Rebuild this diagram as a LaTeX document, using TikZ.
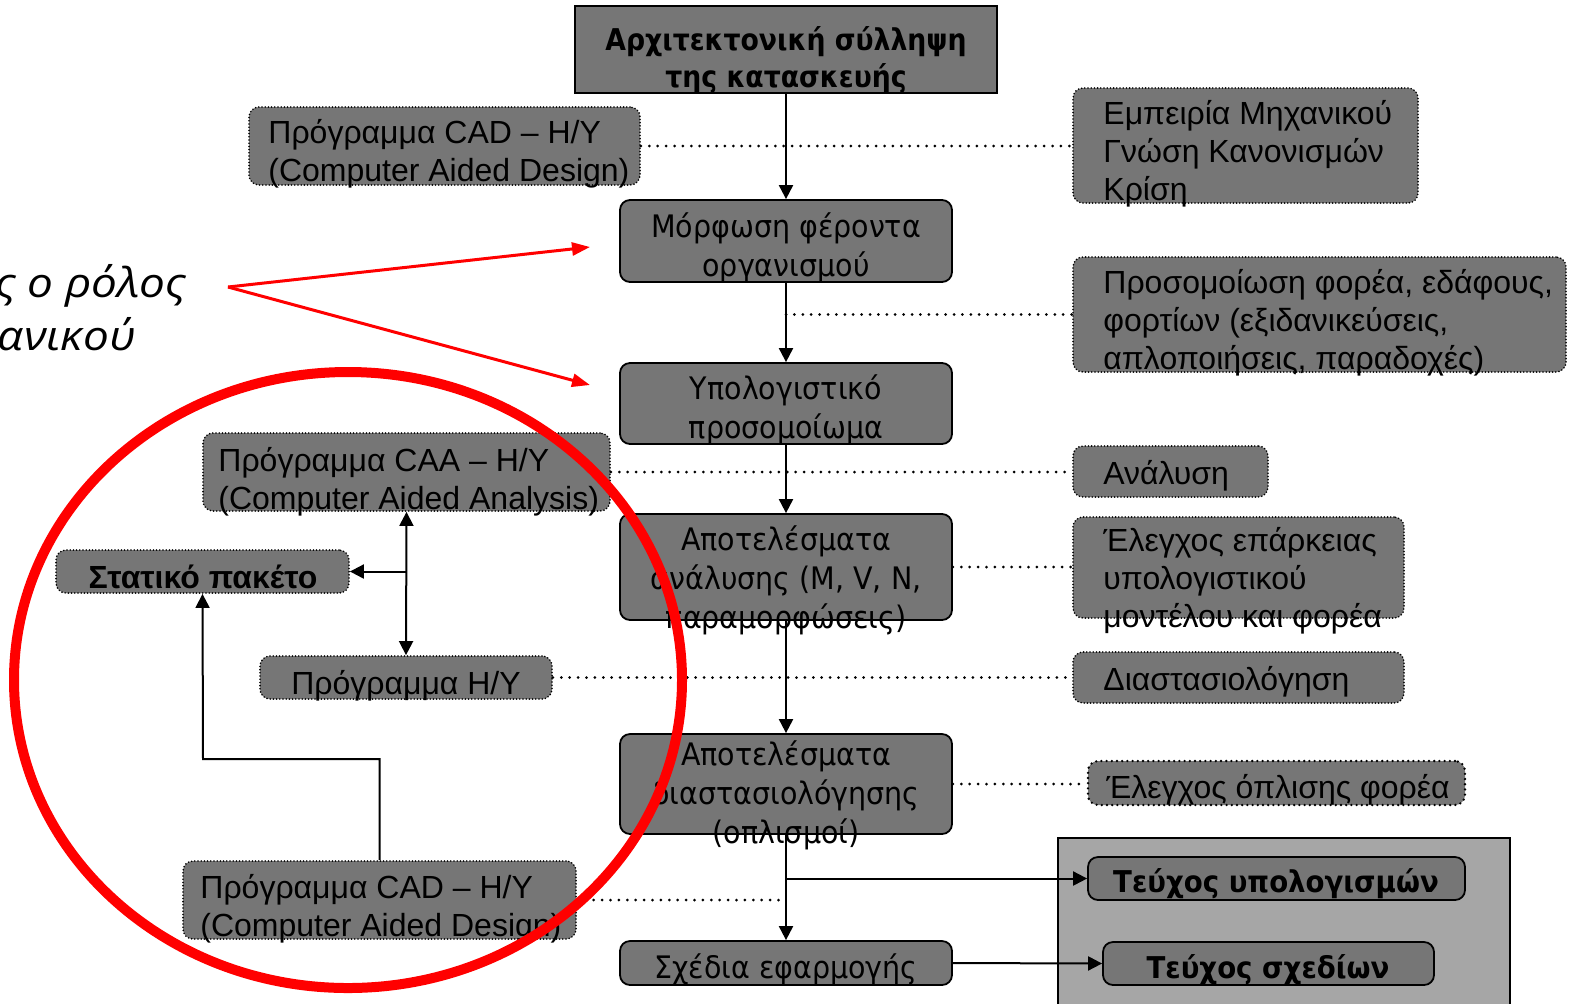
\documentclass[tikz,border=0pt]{standalone}
\usepackage{fontspec}
\setmainfont{Liberation Sans}
\newfontfamily\tahoma[FakeStretch=0.92]{DejaVu Sans}
\newfontfamily\tahomab[FakeStretch=0.89]{DejaVu Sans Bold}
\newfontfamily\redf[FakeStretch=1.12]{Open Sans}
\usetikzlibrary{arrows.meta,fit,calc}
\definecolor{boxgray}{RGB}{118,118,118}
\definecolor{lightbox}{RGB}{166,166,166}
\definecolor{myred}{RGB}{255,0,0}
\tikzset{
  basebox/.style={fill=boxgray, inner sep=0pt, rounded corners=5pt},
  sharpbox/.style={fill=boxgray, inner sep=0pt, draw=black, line width=1pt},
  solidbox/.style={basebox, draw=black, line width=0.9pt},
  dotbox/.style={basebox, draw=black, line width=0.9pt, line cap=round, dash pattern=on 0pt off 1.6pt},
  dotboxthick/.style={basebox, draw=black, line width=1.3pt, line cap=round, dash pattern=on 0pt off 2.6pt},
  dotline/.style={line width=1.5pt, line cap=round, dash pattern=on 0pt off 4.2pt},
  arr/.style={line width=1pt, -{Triangle[length=7pt,width=7pt]}},
  darr/.style={line width=1pt, {Triangle[length=7pt,width=7pt]}-{Triangle[length=7pt,width=7pt]}},
  redarr/.style={line width=1.5pt, draw=myred, -{Triangle[length=9pt,width=6.5pt]}, myred},
  ltxt/.style={font=\fontsize{16}{19}\selectfont, align=left, anchor=base west, inner sep=0pt},
  ctxt/.style={font=\tahoma\fontsize{15.5}{19.3}\selectfont, align=center, anchor=base, inner sep=0pt},
  titletxt/.style={font=\tahomab\fontsize{15}{18.5}\selectfont, align=center, anchor=base, inner sep=0pt},
  btxt/.style={font=\tahoma\bfseries\fontsize{15}{18}\selectfont, anchor=base, inner sep=0pt},
  stxt/.style={font=\bfseries\fontsize{16}{19}\selectfont, anchor=base, inner sep=0pt},
  redtxt/.style={font=\redf\itshape\fontsize{20.5}{26.5}\selectfont, anchor=base east, inner sep=0pt},
}
\begin{document}
\begin{tikzpicture}[x=0.5pt,y=-0.5pt]
\useasboundingbox (0,0) rectangle (1572,1003);
% container
\node[fill=lightbox, draw=black, line width=1pt, inner sep=0pt, fit={(1058,838) (1510,1015)}] (cont) {};
% boxes
\node[sharpbox, fit={(575,6) (997,93)}] (arch) {};
\node[dotbox, fit={(249,107) (640,185)}] (cadtop) {};
\node[dotbox, fit={(1073,88) (1418,203)}] (emp) {};
\node[solidbox, fit={(620,200) (952,282)}] (morf) {};
\node[dotbox, fit={(1073,257) (1566,372)}] (prosom) {};
\node[solidbox, fit={(620,363) (952,444)}] (ypol) {};
\node[dotbox, fit={(203,433) (610,511)}] (caa) {};
\node[dotbox, fit={(1073,446) (1268,497)}] (anal) {};
\node[solidbox, fit={(620,514) (952,620)}] (res1) {};
\node[dotbox, fit={(1073,517) (1404,618)}] (epark) {};
\node[dotbox, fit={(56,550) (349,593)}] (stat) {};
\node[dotbox, fit={(260,656) (552,699)}] (hy) {};
\node[dotbox, fit={(1073,652) (1404,703)}] (diast) {};
\node[solidbox, fit={(620,734) (952,834)}] (res2) {};
\node[dotboxthick, fit={(1088,761) (1465,805)}] (oplisi) {};
\node[dotbox, fit={(183,861) (576,939)}] (cadbot) {};
\node[solidbox, fit={(620,941) (952,985)}] (sxed) {};
\node[solidbox, fit={(1088,857) (1465,900)}] (teux1) {};
\node[solidbox, fit={(1103,942) (1434,985)}] (teux2) {};
% connectors
\draw[arr] (arch.south) -- (morf.north);
\draw[arr] (morf.south) -- (ypol.north);
\draw[arr] (ypol.south) -- (res1.north);
\draw[arr] (res1.south) -- (res2.north);
\draw[arr] (res2.south) -- (sxed.north);
\draw[arr] (teux1.west -| res2.south) -- (teux1.west);
\draw[arr] (sxed.east) -- (teux2.west);
\draw[dotline] (cadtop.east) -- (cadtop.east -| emp.west);
\draw[dotline] (prosom.west -| morf.south) -- (prosom.west);
\draw[dotline] (caa.east) -- (caa.east -| anal.west);
\draw[dotline] (res1.east) -- (res1.east -| epark.west);
\draw[dotline] (hy.east) -- (hy.east -| diast.west);
\draw[dotline] (res2.east) -- (res2.east -| oplisi.west);
\draw[dotline] (cadbot.east) -- (cadbot.east -| sxed.north);
\draw[darr] (caa.south) -- (hy.north);
\draw[arr] (stat.east -| caa.south) -- (stat.east);
\coordinate (bend) at (203,759);
\draw[arr] (cadbot.north) |- (bend) -- (stat.south);
% texts (multi-line nodes are placed by the baseline of their last line)
\node[titletxt] (arch-t) at (786,87) {Αρχιτεκτονική σύλληψη\\της κατασκευής};
\node[ltxt] (cadtop-t) at (268,181) {Πρόγραμμα CAD – H/Y\\(Computer Aided Design)};
\node[ltxt] (emp-t) at (1103,200) {Εμπειρία Μηχανικού\\Γνώση Κανονισμών\\Κρίση};
\node[ctxt] (morf-t) at (786,276) {Μόρφωση φέροντα\\οργανισμού};
\node[ltxt] (prosom-t) at (1103,369) {Προσομοίωση φορέα, εδάφους,\\φορτίων (εξιδανικεύσεις,\\απλοποιήσεις, παραδοχές)};
\node[ctxt] (ypol-t) at (786,438) {Υπολογιστικό\\προσομοίωμα};
\node[ltxt] (caa-t) at (218,509) {Πρόγραμμα CAA – H/Y\\(Computer Aided Analysis)};
\node[ltxt] (anal-t) at (1103,484) {Ανάλυση};
\node[ctxt] (res1-t) at (786,628) {Αποτελέσματα\\ανάλυσης (M, V, N,\\παραμορφώσεις)};
\node[ltxt] (epark-t) at (1103,627) {Έλεγχος επάρκειας\\υπολογιστικού\\μοντέλου και φορέα};
\node[stxt] (stat-t) at (203,588) {Στατικό πακέτο};
\node[ltxt, anchor=base] (hy-t) at (406,694) {Πρόγραμμα H/Y};
\node[ltxt] (diast-t) at (1103,690) {Διαστασιολόγηση};
\node[ctxt] (res2-t) at (786,843) {Αποτελέσματα\\διαστασιολόγησης\\(οπλισμοί)};
\node[ltxt, anchor=base] (oplisi-t) at (1278,798) {Έλεγχος όπλισης φορέα};
\node[ltxt] (cadbot-t) at (200,936) {Πρόγραμμα CAD – H/Y\\(Computer Aided Design)};
\node[ctxt] (sxed-t) at (786,978) {Σχέδια εφαρμογής};
\node[btxt] (teux1-t) at (1276,892) {Τεύχος υπολογισμών};
\node[btxt] (teux2-t) at (1268,978) {Τεύχος σχεδίων};
% red overlay
\draw[myred, line width=5pt] (348,680) ellipse [x radius=167pt, y radius=154pt];
\coordinate (rs) at (228,287);
\coordinate (r1) at (590,247);
\coordinate (r2) at (590,385);
\draw[redarr] (rs) -- (r1);
\draw[redarr] (rs) -- (r2);
\node[redtxt] (role1) at (187,297) {ς ο ρόλος};
\node[redtxt] (role2) at (136,350) {ανικού};
\end{tikzpicture}
\end{document}
